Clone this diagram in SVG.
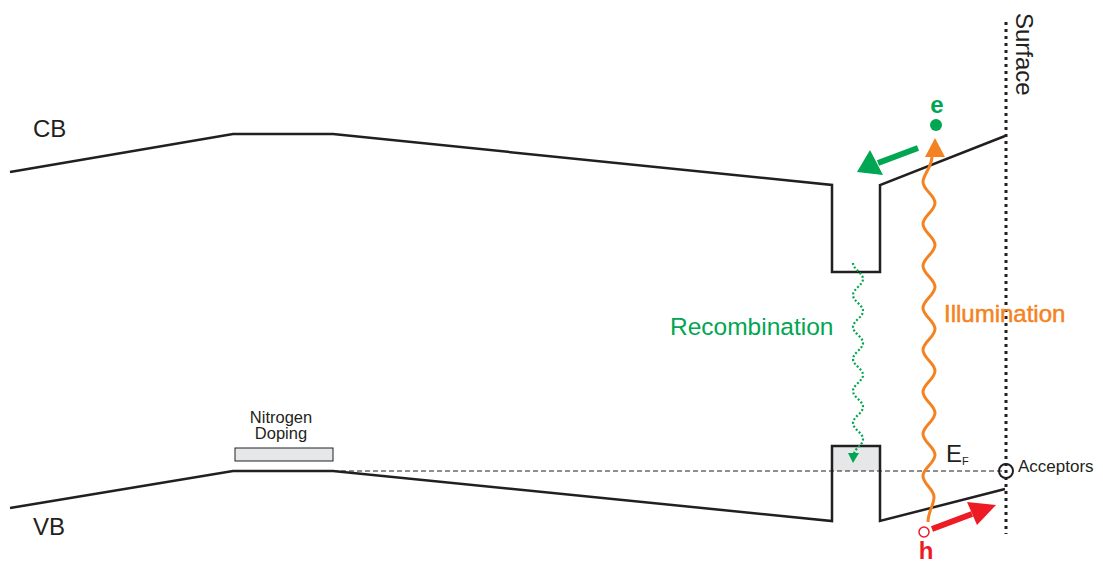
<svg xmlns="http://www.w3.org/2000/svg" width="1103" height="563" viewBox="0 0 1103 563">
<defs>
<style>
.band{fill:none;stroke:#231f20;stroke-width:2.5;stroke-linejoin:miter}
.t{font-family:"Liberation Sans",Arial,sans-serif;fill:#231f20}
</style>
</defs>
<rect width="1103" height="563" fill="#fff"/>
<g id="cb-band">
<polyline class="band" points="10,172 233,134 333,134 832,185 832,272 880,272 880,185 1005,136"/>
<text class="t" x="33" y="137" font-size="24">CB</text>
</g>
<g id="vb-band">
<rect x="832" y="446" width="48" height="25" fill="#e6e7e8"/>
<polyline class="band" points="10,508 233,471 333,471 832,521 832,446 880,446 880,521 1005,489"/>
<text class="t" x="33" y="535" font-size="24">VB</text>
</g>
<g id="nitrogen-doping">
<rect x="235" y="448" width="98" height="13" fill="#e6e7e8" stroke="#231f20" stroke-width="1"/>
<text class="t" x="281" y="423" font-size="16.5" text-anchor="middle">Nitrogen</text>
<text class="t" x="281" y="439" font-size="16.5" text-anchor="middle">Doping</text>
</g>
<g id="fermi-level">
<line x1="333" y1="471" x2="1005" y2="471" stroke="#231f20" stroke-width="1" stroke-dasharray="5,3"/>
<text class="t" x="946" y="462" font-size="24">E<tspan font-size="11" dy="3">F</tspan></text>
</g>
<g id="surface">
<line x1="1006" y1="22" x2="1006" y2="534" stroke="#231f20" stroke-width="3" stroke-dasharray="3,4"/>
<text class="t" font-size="24" transform="translate(1016,13) rotate(90)">Surface</text>
</g>
<g id="acceptors">
<circle cx="1006" cy="471" r="7" fill="none" stroke="#231f20" stroke-width="2"/>
<text class="t" x="1018" y="472" font-size="17">Acceptors</text>
</g>
<g id="connectors">
<path d="M928,522 C928,512 934,505 934,497 C934,489 923,484 923,476 C923,468 935,463 935,455 C935,447 923,442 923,434 C923,426 935,421 935,413 C935,405 923,400 923,392 C923,384 935,379 935,371 C935,363 923,358 923,350 C923,342 935,337 935,329 C935,321 923,316 923,308 C923,300 935,295 935,287 C935,279 923,274 923,266 C923,258 935,253 935,245 C935,237 923,232 923,224 C923,216 935,211 935,203 C935,195 923,190 923,182 C923,174 932,168 932,156" fill="none" stroke="#f58220" stroke-width="3"/>
<polygon points="925,157 945,157 935,138" fill="#f58220"/>
<path d="M853,263 C853,269 863,273 863,279 C863,285 853,289 853,295 C853,301 863,305 863,311 C863,317 853,321 853,327 C853,333 863,337 863,343 C863,349 853,353 853,359 C853,365 863,369 863,375 C863,381 853,385 853,391 C853,397 863,401 863,407 C863,413 853,417 853,423 C853,429 863,433 863,439 C863,445 855,448 854,454" fill="none" stroke="#00a651" stroke-width="2.2" stroke-dasharray="2,2"/>
<polygon points="848,453 859,453 853,463" fill="#00a651"/>
<line x1="918" y1="148" x2="878" y2="163" stroke="#00a651" stroke-width="6"/>
<polygon points="857,172 870,150 883,175" fill="#00a651"/>
<line x1="932" y1="529" x2="972" y2="514" stroke="#ed1c24" stroke-width="6"/>
<polygon points="996,505 977,525 967,502" fill="#ed1c24"/>
</g>
<g id="electron">
<circle cx="936" cy="125" r="6" fill="#00a651"/>
<text x="937" y="113" font-size="24" font-weight="bold" fill="#00a651" text-anchor="middle" font-family="Liberation Sans, Arial, sans-serif">e</text>
</g>
<g id="hole">
<circle cx="924" cy="532" r="5" fill="#fff" stroke="#ed1c24" stroke-width="1.5"/>
<text x="926" y="559" font-size="24" font-weight="bold" fill="#ed1c24" text-anchor="middle" font-family="Liberation Sans, Arial, sans-serif">h</text>
</g>
<g id="labels">
<text x="670" y="335" font-size="24.5" fill="#00a651" font-family="Liberation Sans, Arial, sans-serif">Recombination</text>
<text x="944" y="322" font-size="24" fill="#f58220" font-family="Liberation Sans, Arial, sans-serif" stroke="#f58220" stroke-width="0.5">Illumination</text>
</g>
</svg>
